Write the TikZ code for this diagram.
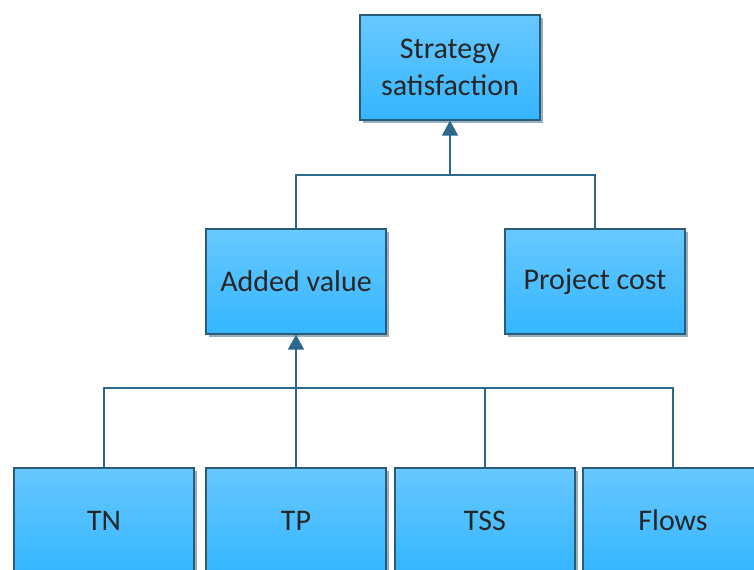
\documentclass[tikz,border=0pt]{standalone}
\usepackage{fontspec}
\setmainfont{Carlito}
\usepackage{tikz}
\usetikzlibrary{
    positioning,
    arrows.meta,
    shadows
}
\definecolor{boxtop}{RGB}{104,200,255}
\definecolor{boxbottom}{RGB}{52,182,255}
\definecolor{boxline}{RGB}{40,92,122}
\definecolor{linkline}{RGB}{44,104,138}
\tikzset{
    >={Triangle[length=15bp,width=16bp]},
    block/.style={
        rectangle,
        draw=boxline,
        line width=1.2bp,
        top color=boxtop,
        bottom color=boxbottom,
        minimum width=180bp,
        minimum height=105bp,
        align=center,
        text=black!85,
        font=\fontsize{30bp}{37bp}\selectfont,
        drop shadow={shadow xshift=3bp, shadow yshift=-3bp,
            fill={rgb,255:red,110;green,140;blue,160}, opacity=0.7}
    },
    link/.style={
        draw=linkline,
        line width=1.5bp
    }
}

\begin{document}
\begin{tikzpicture}[
    x=1bp,
    y=-1bp
]
    \useasboundingbox (0,0) rectangle (754,570);

    % Bloques
    \node[block] (strat) at (450,67.5)  {Strategy\\satisfaction};
    \node[block] (added) at (296,281.5) {Added value};
    \node[block] (cost)  at (595,281.5) {Project cost};
    \node[block] (tn)    at (104,520.5) {TN};
    \node[block] (tp)    at (296,520.5) {TP};
    \node[block] (tss)   at (485,520.5) {TSS};
    \node[block] (flows) at (673,520.5) {Flows};

    % Barras
    \coordinate (bus1) at (0,175);
    \coordinate (bus2) at (0,388);

    % Conexiones nivel superior
    \draw[link] (added.north) |- (bus1 -| cost.north) -- (cost.north);
    \draw[link, ->] (strat.south |- bus1) -- (strat.south);

    % Conexiones nivel inferior
    \draw[link] (tn.north) |- (bus2 -| flows.north) -- (flows.north);
    \draw[link] (tss.north) -- (tss.north |- bus2);
    \draw[link, ->] (tp.north) -- (added.south);

\end{tikzpicture}
\end{document}
